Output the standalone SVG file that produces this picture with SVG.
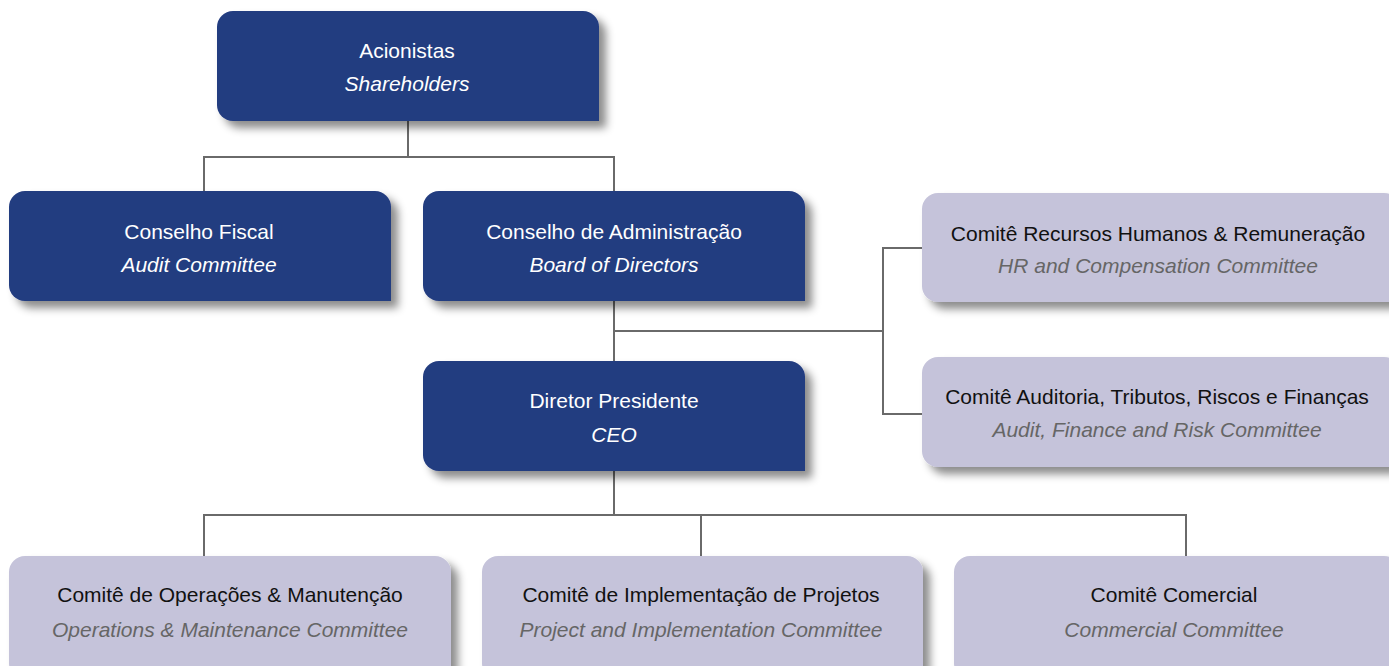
<svg xmlns="http://www.w3.org/2000/svg" width="1389" height="666" viewBox="0 0 1389 666">
<defs>
<filter id="sh" x="-10%" y="-20%" width="130%" height="160%">
<feDropShadow dx="7" dy="7" stdDeviation="4" flood-color="#000" flood-opacity="0.45"/>
</filter>
<style>
.dark{fill:#243c80;filter:url(#sh)}
.light{fill:#c5c3da;filter:url(#sh)}
.conn{fill:none;stroke:#6a6a6a;stroke-width:2}
text{font-family:"Liberation Sans",Arial,sans-serif;font-size:21px;text-anchor:middle}
.dt{fill:#ffffff}
.di{fill:#ffffff;font-style:italic}
.lt{fill:#111111}
.li{fill:#666666;font-style:italic}
</style>
</defs>
<g id="connectors">
<path class="conn" d="M408,121 V157 M204,191 V157 H614 V191"/>
<path class="conn" d="M614,301 V361 M614,331 H883 M922,248 H883 V414 H922"/>
<path class="conn" d="M614,471 V515 M204,556 V515 H1186 V556 M701,515 V556"/>
</g>
<g id="shareholders">
<path class="dark" d="M233,11 H583 A16,16 0 0 1 599,27 V121 H233 A16,16 0 0 1 217,105 V27 A16,16 0 0 1 233,11 Z"/>
<text class="dt" x="407" y="58">Acionistas</text>
<text class="di" x="407" y="91">Shareholders</text>
</g>
<g id="conselho-fiscal">
<path class="dark" d="M25,191 H375 A16,16 0 0 1 391,207 V301 H25 A16,16 0 0 1 9,285 V207 A16,16 0 0 1 25,191 Z"/>
<text class="dt" x="199" y="239">Conselho Fiscal</text>
<text class="di" x="199" y="272">Audit Committee</text>
</g>
<g id="conselho-administracao">
<path class="dark" d="M439,191 H789 A16,16 0 0 1 805,207 V301 H439 A16,16 0 0 1 423,285 V207 A16,16 0 0 1 439,191 Z"/>
<text class="dt" x="614" y="239">Conselho de Administração</text>
<text class="di" x="614" y="272">Board of Directors</text>
</g>
<g id="ceo">
<path class="dark" d="M439,361 H789 A16,16 0 0 1 805,377 V471 H439 A16,16 0 0 1 423,455 V377 A16,16 0 0 1 439,361 Z"/>
<text class="dt" x="614" y="408">Diretor Presidente</text>
<text class="di" x="614" y="442">CEO</text>
</g>
<g id="comite-rh">
<path class="light" d="M938,193 H1384 A16,16 0 0 1 1400,209 V302 H938 A16,16 0 0 1 922,286 V209 A16,16 0 0 1 938,193 Z"/>
<text class="lt" x="1158" y="241">Comitê Recursos Humanos &amp; Remuneração</text>
<text class="li" x="1158" y="273">HR and Compensation Committee</text>
</g>
<g id="comite-auditoria">
<path class="light" d="M938,357 H1384 A16,16 0 0 1 1400,373 V467 H938 A16,16 0 0 1 922,451 V373 A16,16 0 0 1 938,357 Z"/>
<text class="lt" x="1157" y="404">Comitê Auditoria, Tributos, Riscos e Finanças</text>
<text class="li" x="1157" y="437">Audit, Finance and Risk Committee</text>
</g>
<g id="comite-operacoes">
<path class="light" d="M25,556 H435 A16,16 0 0 1 451,572 V680 H25 A16,16 0 0 1 9,664 V572 A16,16 0 0 1 25,556 Z"/>
<text class="lt" x="230" y="602">Comitê de Operações &amp; Manutenção</text>
<text class="li" x="230" y="637">Operations &amp; Maintenance Committee</text>
</g>
<g id="comite-projetos">
<path class="light" d="M498,556 H907 A16,16 0 0 1 923,572 V680 H498 A16,16 0 0 1 482,664 V572 A16,16 0 0 1 498,556 Z"/>
<text class="lt" x="701" y="602">Comitê de Implementação de Projetos</text>
<text class="li" x="701" y="637">Project and Implementation Committee</text>
</g>
<g id="comite-comercial">
<path class="light" d="M970,556 H1384 A16,16 0 0 1 1400,572 V680 H970 A16,16 0 0 1 954,664 V572 A16,16 0 0 1 970,556 Z"/>
<text class="lt" x="1174" y="602">Comitê Comercial</text>
<text class="li" x="1174" y="637">Commercial Committee</text>
</g>
</svg>
